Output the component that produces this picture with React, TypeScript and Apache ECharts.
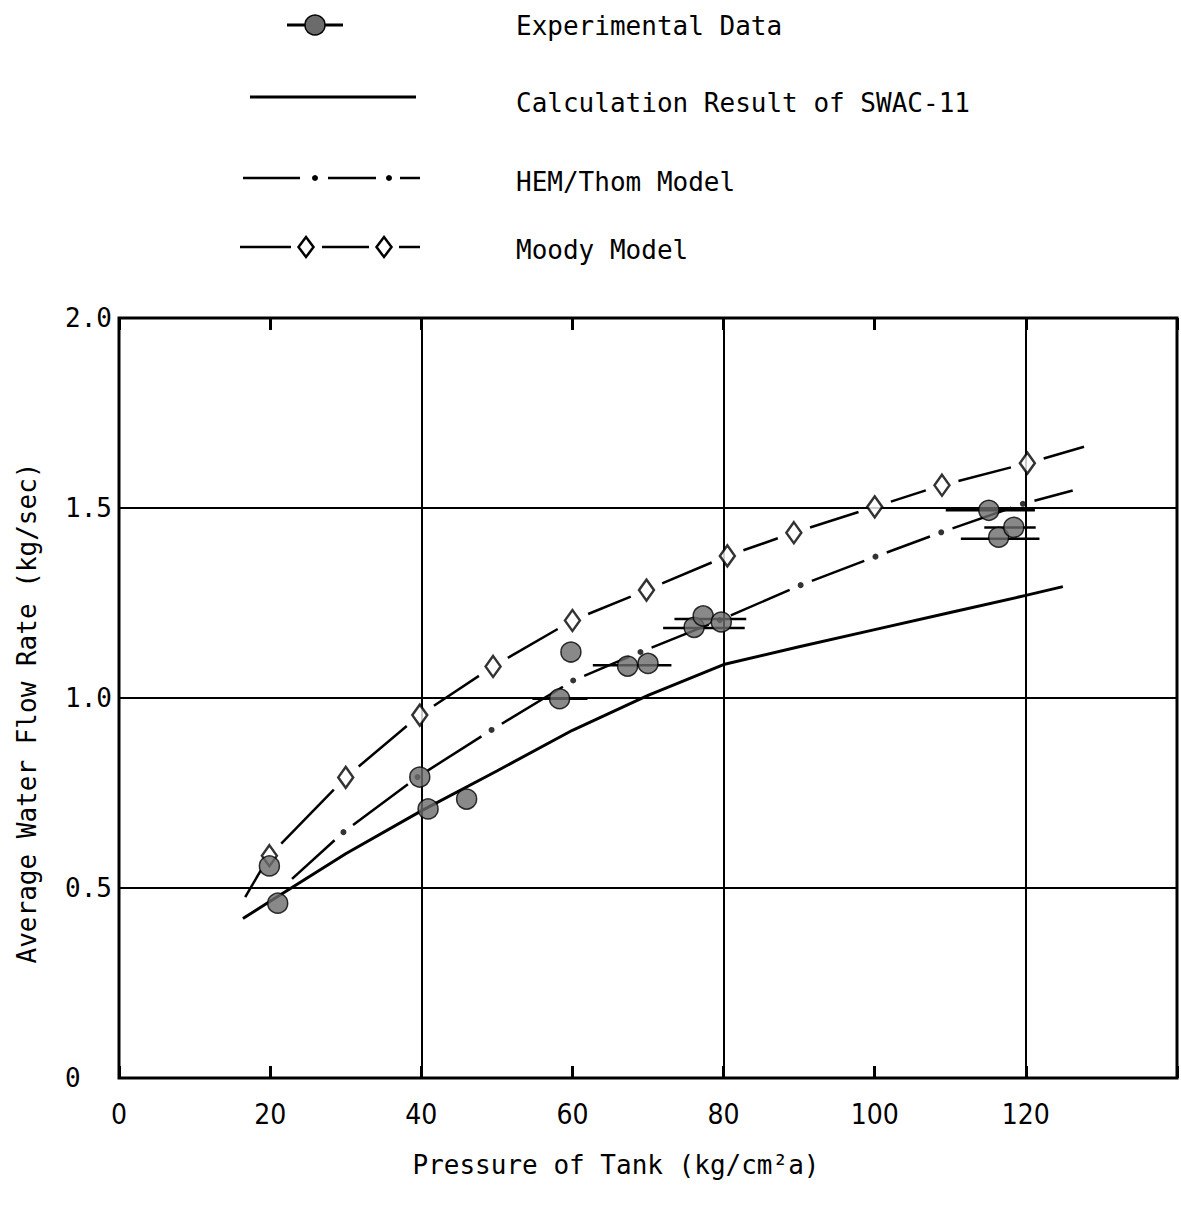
import React, { useEffect, useRef } from "react";
import * as echarts from "echarts";

const MONO = '"DejaVu Sans Mono", monospace';
const NARROW = '"Liberation Sans Narrow", "DejaVu Sans Condensed", sans-serif';

// Experimental data: tank pressure (kg/cm2a) and average water flow rate (kg/sec)
const expPressure = [19.9, 21.0, 39.8, 40.9, 46.0, 58.3, 59.8, 67.3, 70.0, 76.1, 77.3, 79.7, 115.1, 116.4, 118.4];
const expFlow = [0.558, 0.46, 0.792, 0.708, 0.734, 0.998, 1.121, 1.084, 1.091, 1.186, 1.216, 1.2, 1.494, 1.423, 1.449];

// Pressure range covered by a run (horizontal bars)
const rangeFlow = [0.998, 1.086, 1.184, 1.208, 1.494, 1.449, 1.419];
const rangeFrom = [54.7, 62.7, 72.0, 73.5, 109.4, 114.5, 111.4];
const rangeTo = [62.0, 73.1, 82.8, 83.0, 121.2, 121.3, 121.8];

// Calculation result of SWAC-11
const swacPressure = [16.4, 20, 30, 40, 50, 60, 70, 80, 90, 100, 110, 120, 124.9];
const swacFlow = [0.42, 0.465, 0.59, 0.703, 0.808, 0.915, 1.007, 1.088, 1.135, 1.18, 1.225, 1.27, 1.293];

// HEM/Thom model: curve ends plus the computed points (dots)
const hemPressure = [22.9, 29.7, 39.5, 49.3, 60.1, 69.0, 79.5, 90.2, 100.1, 108.8, 119.6, 126.2];
const hemFlow = [0.524, 0.647, 0.792, 0.916, 1.046, 1.121, 1.205, 1.297, 1.372, 1.436, 1.511, 1.546];

// Moody model: curve ends plus the computed points (diamonds)
const moodyPressure = [16.7, 19.9, 30.0, 39.8, 49.5, 60.0, 69.8, 80.5, 89.3, 100.0, 108.9, 120.2, 127.7];
const moodyFlow = [0.476, 0.585, 0.791, 0.955, 1.083, 1.204, 1.284, 1.374, 1.435, 1.503, 1.56, 1.618, 1.661];

const legendLabels = ["Experimental Data", "Calculation Result of SWAC-11", "HEM/Thom Model", "Moody Model"];

const pairs = (xs: number[], ys: number[]) => xs.map((x, i) => [x, ys[i]]);

// Line through the points, broken open around every interior point (where a marker sits)
function gappedLine(gap: number, width: number) {
  return (params: any, api: any) => {
    const i = params.dataIndexInside;
    if (i === 0) return null;
    const n = params.dataInsideLength;
    const a = api.coord([api.value(0, i - 1), api.value(1, i - 1)]);
    const b = api.coord([api.value(0, i), api.value(1, i)]);
    const dx = b[0] - a[0];
    const dy = b[1] - a[1];
    const len = Math.hypot(dx, dy) || 1;
    const ux = dx / len;
    const uy = dy / len;
    const g0 = i - 1 === 0 ? 0 : gap;
    const g1 = i === n - 1 ? 0 : gap;
    return {
      type: "line",
      shape: { x1: a[0] + ux * g0, y1: a[1] + uy * g0, x2: b[0] - ux * g1, y2: b[1] - uy * g1 },
      style: { stroke: "#000", lineWidth: width, lineCap: "butt" },
    };
  };
}

function legendGraphic() {
  const txt = (y: number, label: string) => ({
    type: "text",
    x: 516,
    y,
    style: { text: label, fontFamily: MONO, fontSize: 26, fill: "#000", verticalAlign: "middle", align: "left" },
  });
  const seg = (x1: number, x2: number, y: number, w: number) => ({
    type: "line",
    shape: { x1, y1: y, x2, y2: y },
    style: { stroke: "#000", lineWidth: w },
  });
  const diamond = (cx: number, cy: number) => ({
    type: "polygon",
    shape: { points: [[cx, cy - 10], [cx + 7.5, cy], [cx, cy + 10], [cx - 7.5, cy]] },
    style: { fill: "#fff", stroke: "#000", lineWidth: 2.5 },
  });
  return [
    seg(287, 343, 25, 3),
    { type: "circle", shape: { cx: 315, cy: 25, r: 10 }, style: { fill: "#6b6b6b", stroke: "#000", lineWidth: 1.5 } },
    txt(26, legendLabels[0]),
    seg(250, 416, 97, 3),
    txt(103, legendLabels[1]),
    seg(243, 300, 178, 2.5),
    { type: "circle", shape: { cx: 315, cy: 178, r: 3 }, style: { fill: "#000" } },
    seg(328, 376, 178, 2.5),
    { type: "circle", shape: { cx: 389, cy: 178, r: 3 }, style: { fill: "#000" } },
    seg(400, 420, 178, 2.5),
    txt(182, legendLabels[2]),
    seg(240, 291, 247, 2.5),
    diamond(306, 247),
    seg(322, 369, 247, 2.5),
    diamond(384, 247),
    seg(399, 420, 247, 2.5),
    txt(250, legendLabels[3]),
  ];
}

export default function App() {
  const ref = useRef<HTMLDivElement>(null);

  useEffect(() => {
    if (!ref.current) return;
    const chart = echarts.init(ref.current, null, { renderer: "svg" });
    const tickStyle = { color: "#000", width: 3 };
    chart.setOption({
      animation: false,
      backgroundColor: "#fff",
      textStyle: { color: "#000", fontFamily: MONO },
      grid: { left: 119, right: 4, top: 318, bottom: 138, show: true, borderColor: "#000", borderWidth: 3 },
      xAxis: [
        {
          type: "value",
          min: 0,
          max: 140,
          interval: 20,
          position: "bottom",
          axisLine: { show: false },
          axisTick: { show: true, inside: true, length: 12, lineStyle: tickStyle },
          axisLabel: {
            margin: 22,
            fontSize: 28,
            fontFamily: NARROW,
            color: "#000",
            formatter: (v: number) => (v === 140 ? "" : String(v)),
          },
          splitLine: { show: false },
          name: "Pressure of Tank (kg/cm²a)",
          nameLocation: "middle",
          nameGap: 74,
          nameTextStyle: { fontFamily: MONO, fontSize: 26, color: "#000", padding: [0, 64, 0, 0] },
        },
        {
          type: "value",
          min: 0,
          max: 140,
          interval: 20,
          position: "top",
          axisLine: { show: false },
          axisTick: { show: true, inside: true, length: 12, lineStyle: tickStyle },
          axisLabel: { show: false },
          splitLine: { show: false },
        },
        {
          type: "value",
          min: 0,
          max: 140,
          interval: 40,
          position: "bottom",
          axisLine: { show: false },
          axisTick: { show: false },
          axisLabel: { show: false },
          splitLine: { show: true, lineStyle: { color: "#000", width: 2 } },
        },
      ],
      yAxis: {
        type: "value",
        min: 0,
        max: 2,
        interval: 0.5,
        axisLine: { show: false },
        axisTick: { show: false },
        axisLabel: {
          align: "left",
          margin: 54,
          fontSize: 26,
          fontFamily: MONO,
          color: "#000",
          formatter: (v: number) => (v === 0 ? "0" : v.toFixed(1)),
        },
        splitLine: { show: true, lineStyle: { color: "#000", width: 2 } },
        name: "Average Water Flow Rate (kg/sec)",
        nameLocation: "middle",
        nameRotate: 90,
        nameGap: 79,
        nameTextStyle: { fontFamily: MONO, fontSize: 26, color: "#000", padding: [0, 30, 0, 0] },
      },
      graphic: legendGraphic(),
      series: [
        {
          name: legendLabels[1],
          type: "line",
          data: pairs(swacPressure, swacFlow),
          symbol: "none",
          lineStyle: { color: "#000", width: 3 },
          z: 3,
        },
        {
          name: legendLabels[2],
          type: "custom",
          data: pairs(hemPressure, hemFlow),
          encode: { x: 0, y: 1 },
          renderItem: gappedLine(12, 2.5),
          z: 3,
        },
        {
          name: legendLabels[2] + " points",
          type: "scatter",
          data: pairs(hemPressure.slice(1, -1), hemFlow.slice(1, -1)),
          symbol: "circle",
          symbolSize: 6,
          itemStyle: { color: "#000" },
          z: 3,
        },
        {
          name: legendLabels[3],
          type: "custom",
          data: pairs(moodyPressure, moodyFlow),
          encode: { x: 0, y: 1 },
          renderItem: gappedLine(17, 2.5),
          z: 3,
        },
        {
          name: legendLabels[3] + " points",
          type: "scatter",
          data: pairs(moodyPressure.slice(1, -1), moodyFlow.slice(1, -1)),
          symbol: "diamond",
          symbolSize: [15, 21],
          itemStyle: { color: "#fff", borderColor: "#000", borderWidth: 2.5 },
          z: 4,
        },
        {
          name: "Pressure range",
          type: "custom",
          data: rangeFlow.map((y, i) => [rangeFrom[i], rangeTo[i], y]),
          encode: { x: [0, 1], y: 2 },
          renderItem: (params: any, api: any) => {
            const a = api.coord([api.value(0), api.value(2)]);
            const b = api.coord([api.value(1), api.value(2)]);
            return {
              type: "line",
              shape: { x1: a[0], y1: a[1], x2: b[0], y2: b[1] },
              style: { stroke: "#000", lineWidth: 2.5 },
            };
          },
          z: 5,
        },
        {
          name: legendLabels[0],
          type: "scatter",
          data: pairs(expPressure, expFlow),
          symbol: "circle",
          symbolSize: 20,
          itemStyle: { color: "#6b6b6b", borderColor: "#000", borderWidth: 1.5 },
          z: 6,
        },
      ],
    });
    return () => chart.dispose();
  }, []);

  return (
    <div
      ref={ref}
      style={{ position: "fixed", left: 0, top: 0, width: 1181, height: 1216, background: "#fff" }}
    />
  );
}
